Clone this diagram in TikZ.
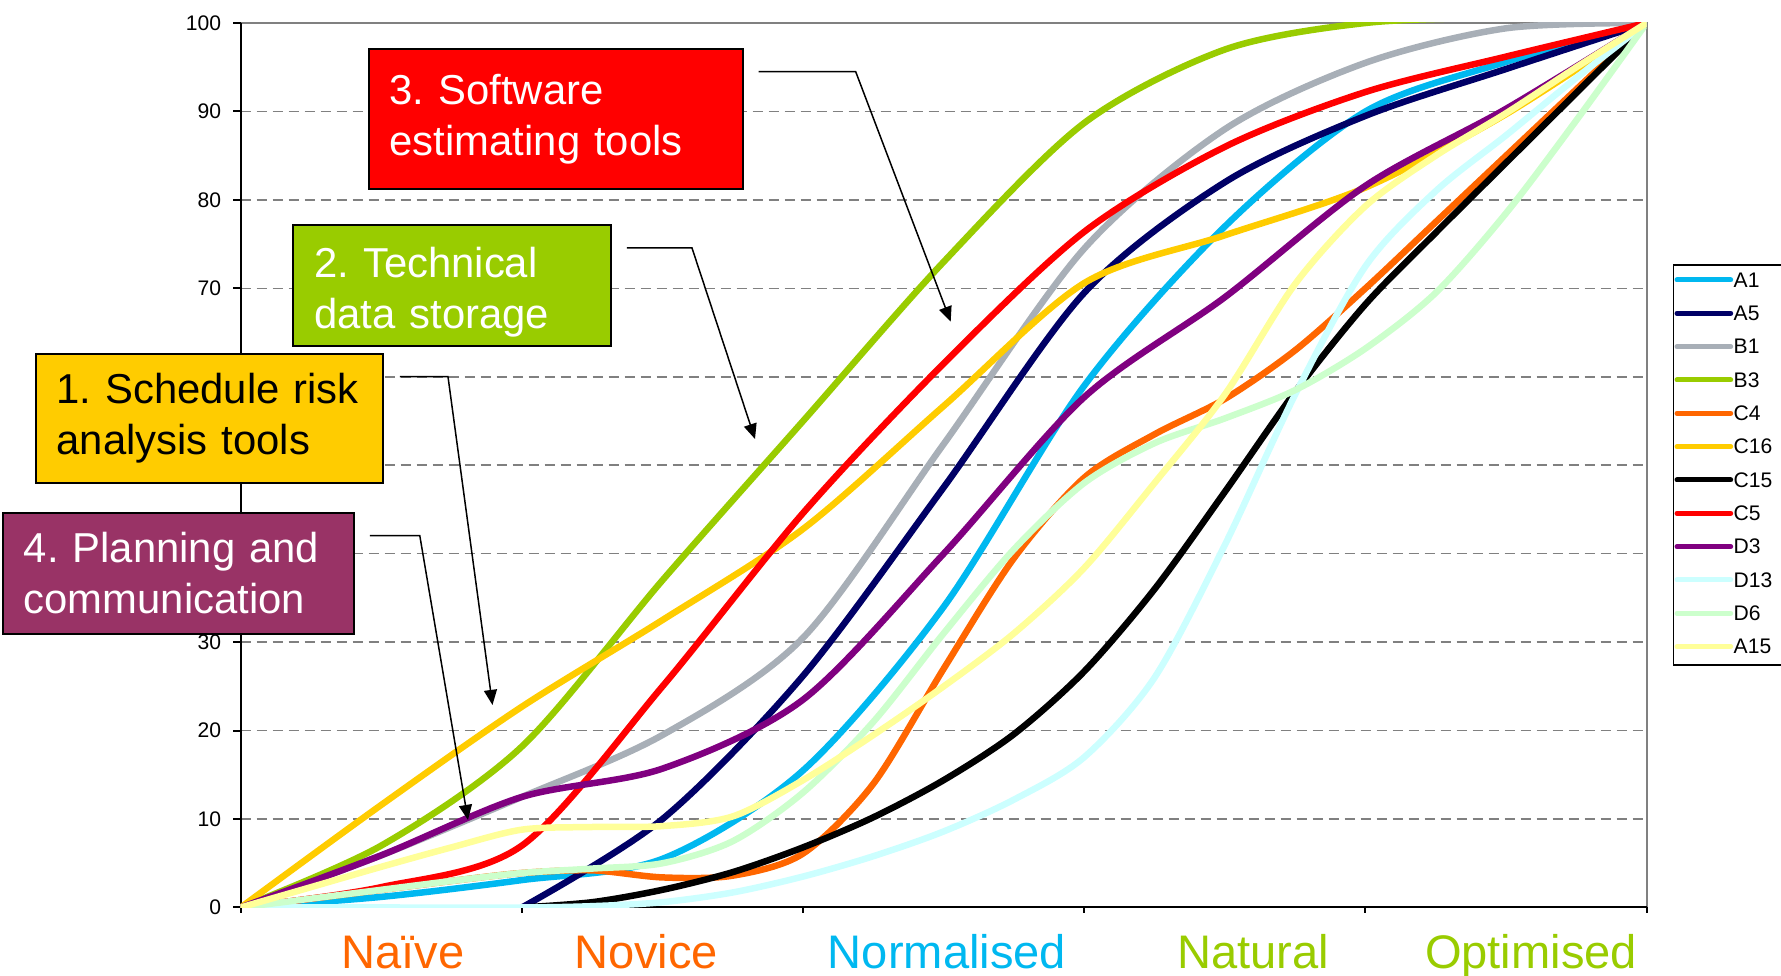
\documentclass[tikz,border=0pt]{standalone}
\usepackage{fontspec}
\setmainfont{Liberation Sans}
\usetikzlibrary{arrows.meta}
\frenchspacing

\definecolor{cA1}{HTML}{00B8F0}
\definecolor{cA5}{HTML}{000066}
\definecolor{cB1}{HTML}{A8AFB7}
\definecolor{cB3}{HTML}{99CC00}
\definecolor{cC4}{HTML}{FF6600}
\definecolor{cC16}{HTML}{FFCC00}
\definecolor{cC15}{HTML}{000000}
\definecolor{cC5}{HTML}{FF0000}
\definecolor{cD3}{HTML}{800080}
\definecolor{cD13}{HTML}{CCFFFF}
\definecolor{cD6}{HTML}{CCFFCC}
\definecolor{cA15}{HTML}{FFFF99}
\definecolor{planfill}{HTML}{993366}

\tikzstyle{series} = [line width=0.65mm, line cap=round, line join=round]
\tikzstyle{gridline} = [draw=gray, line width=0.15mm, dash pattern=on 1mm off 0.6mm]
\tikzstyle{frameline} = [draw=gray, line width=0.2mm]
\tikzstyle{axisline} = [draw=black, line width=0.2mm]
\tikzstyle{ticklabel} = [anchor=east, inner sep=0pt, font=\fontsize{6}{7}\selectfont]
\tikzstyle{stage} = [anchor=base, inner sep=0pt, font=\fontsize{13.4}{16}\selectfont]
\tikzstyle{note} = [rectangle, draw=black, line width=0.2mm, anchor=north west, align=left, inner xsep=2.1mm, inner ysep=0pt, font=\fontsize{11.9}{14.5}\selectfont]
\tikzstyle{pointer} = [draw=black, line width=0.15mm, -{Triangle[length=4.3pt,width=3.7pt]}]
\tikzstyle{legendline} = [line width=0.5mm, line cap=round]
\tikzstyle{legendtext} = [anchor=west, inner sep=0pt, font=\fontsize{6}{7}\selectfont]

\begin{document}
\begin{tikzpicture}[x=0.1mm, y=-0.1mm]
\useasboundingbox (0,0) rectangle (1781,976);

\begin{scope}[shift={(240.7,907.5)}, x=28.12mm, y=0.8845mm]
\foreach \v in {10,20,...,90} \draw[gridline] (0,\v) -- (5,\v);
\draw[frameline] (0,100) -- (5,100) -- (5,0);
\draw[axisline] (0,100) -- (0,0) -- (5,0);
\foreach \v in {0,10,...,100} \draw[axisline] (0,\v) -- ++(-0.8mm,0);
\foreach \v in {0,10,20,30,70,80,90,100} \node (yl\v) [ticklabel, xshift=-1.9mm] at (0,\v) {\v};
\foreach \t in {0,...,5} \draw[axisline] (\t,0) -- ++(0,-0.6mm);

\begin{scope}
\clip (0,0) rectangle (5,100);
\draw[series, cA1] plot[smooth, tension=0.5] coordinates {(0,0) (0.5,1.2) (1,3.1) (1.5,5.5) (2,15.5) (2.5,34) (3,59) (3.5,77) (4,90) (4.5,95.6) (5,100)};
\draw[series, cA5] plot[smooth, tension=0.5] coordinates {(1,0) (1.5,10) (2,26.2) (2.5,47.5) (3,69.5) (3.5,82) (4,89.5) (4.5,94.8) (5,100)};
\draw[series, cB1] plot[smooth, tension=0.5] coordinates {(0,0) (0.5,5.9) (1,12.5) (1.5,19.5) (2,30.5) (2.5,52.4) (3,74.5) (3.5,88) (4,95.5) (4.5,99.4) (5,100)};
\draw[series, cB3] plot[smooth, tension=0.5] coordinates {(0,0) (0.5,7) (1,18.2) (1.5,37) (2,55) (2.5,73) (3,88.7) (3.5,97) (4,100) (4.5,100.6) (5,100.6)};
\draw[series, cC4] plot[smooth, tension=0.5] coordinates {(0,0) (0.25,1) (0.5,2) (0.75,3) (1,3.9) (1.25,4.2) (1.5,3.4) (1.75,3.6) (2,6.1) (2.25,14) (2.5,27) (2.75,39.5) (3,48.6) (3.25,53.5) (3.5,57.5) (3.75,63) (4,70) (4.25,77.5) (4.5,85) (4.75,92.5) (5,100)};
\draw[series, cC16] plot[smooth, tension=0.5] coordinates {(0,0) (0.5,11.6) (1,22.7) (1.5,32.5) (2,42.8) (2.5,56.7) (3,70.6) (3.5,76) (4,81.4) (4.5,89.7) (5,100)};
\draw[series, cC15] plot[smooth, tension=0.5] coordinates {(1,0) (1.25,0.6) (1.5,2) (1.75,4) (2,6.8) (2.25,10.2) (2.5,14.4) (2.75,19.6) (3,26.7) (3.25,36) (3.5,47) (3.75,58.3) (4,68.2) (4.25,76.3) (4.5,84.2) (4.75,92.1) (5,100)};
\draw[series, cC5] plot[smooth, tension=0.5] coordinates {(0,0) (0.5,2.3) (1,7) (1.5,25) (2,44.6) (2.5,61.5) (3,76.4) (3.5,86) (4,92.2) (4.5,96.2) (5,100)};
\draw[series, cD3] plot[smooth, tension=0.5] coordinates {(0,0) (0.5,5.9) (1,12.5) (1.5,15.7) (2,23.5) (2.5,40) (3,57.7) (3.5,69) (4,81.6) (4.5,90.3) (5,100)};
\draw[series, cD13] plot[smooth, tension=0.5] coordinates {(0,0) (0.5,0) (1,0) (1.25,0.15) (1.5,0.6) (1.75,1.7) (2,3.5) (2.25,5.8) (2.5,8.6) (2.75,12.2) (3,17) (3.25,26) (3.5,41) (3.75,58) (4,72.5) (4.25,81) (4.5,87.3) (4.75,93.8) (5,100)};
\draw[series, cD6] plot[smooth, tension=0.5] coordinates {(0,0) (0.25,1) (0.5,2) (0.75,3) (1,3.9) (1.25,4.4) (1.5,5) (1.75,7.5) (2,13) (2.25,21) (2.5,31) (2.75,40.5) (3,48) (3.25,52.5) (3.5,55.3) (3.75,58.5) (4,63.2) (4.25,69.5) (4.5,78.5) (4.75,89) (5,100)};
\draw[series, cA15] plot[smooth, tension=0.5] coordinates {(0,0) (0.25,2.3) (0.5,4.6) (0.75,6.8) (1,8.8) (1.25,9.1) (1.5,9.2) (1.75,10.3) (2,14.4) (2.25,19.5) (2.5,25) (2.75,31) (3,38.4) (3.25,48) (3.5,58) (3.75,70.5) (4,79.3) (4.25,85) (4.5,89.8) (4.75,95) (5,100)};
\end{scope}
\end{scope}

\node (naive) [stage, text=cC4] at (403,969) {Naïve};
\node (novice) [stage, text=cC4] at (646,969) {Novice};
\node (normalised) [stage, text=cA1] at (947,969) {Normalised};
\node (natural) [stage, text=cB3] at (1253,969) {Natural};
\node (optimised) [stage, text=cB3] at (1531,969) {Optimised};

\draw[draw=black, line width=0.15mm] (1673.3,265) rectangle (1795,665);
\foreach \name/\col [count=\i from 0] in {A1/cA1, A5/cA5, B1/cB1, B3/cB3, C4/cC4, C16/cC16, C15/cC15, C5/cC5, D3/cD3, D13/cD13, D6/cD6, A15/cA15} {
  \draw[legendline, draw=\col] (1677,{280+33.33*\i}) -- (1730.7,{280+33.33*\i});
  \node (lg\name) [legendtext] at (1733,{280+33.33*\i}) {\name};
}

\node (software) [note, fill=cC5, text=white, text width=33.2mm, minimum height=14.06mm] at (367.7,47.7) {3. Software\\estimating tools};
\node (storage) [note, fill=cB3, text=white, text width=27.57mm, minimum height=12.1mm] at (292.3,224) {\rule{0pt}{4.3mm}2. Technical\\data storage};
\node (risk) [note, fill=cC16, text=black, text width=30.54mm, minimum height=12.9mm] at (34.6,352.7) {1. Schedule risk\\analysis tools};
\node (planning) [note, fill=planfill, text=white, text width=30.9mm, minimum height=12.1mm] at (1.8,511.7) {4. Planning and\\communication};

\coordinate (softtip) at (950.7,321.7);
\coordinate (storetip) at (755,439);
\coordinate (risktip) at (492.5,705);
\coordinate (plantip) at (468,820);

\draw[pointer] ([xshift=1.5mm,yshift=-2.4mm]software.north east) -- ++(9.7mm,0) -- (softtip);
\draw[pointer] ([xshift=1.5mm,yshift=-2.4mm]storage.north east) -- ++(6.5mm,0) -- (storetip);
\draw[pointer] ([xshift=1.6mm,yshift=-2.4mm]risk.north east) -- ++(4.8mm,0) -- (risktip);
\draw[pointer] ([xshift=1.5mm,yshift=-2.4mm]planning.north east) -- ++(5mm,0) -- (plantip);

\end{tikzpicture}
\end{document}
